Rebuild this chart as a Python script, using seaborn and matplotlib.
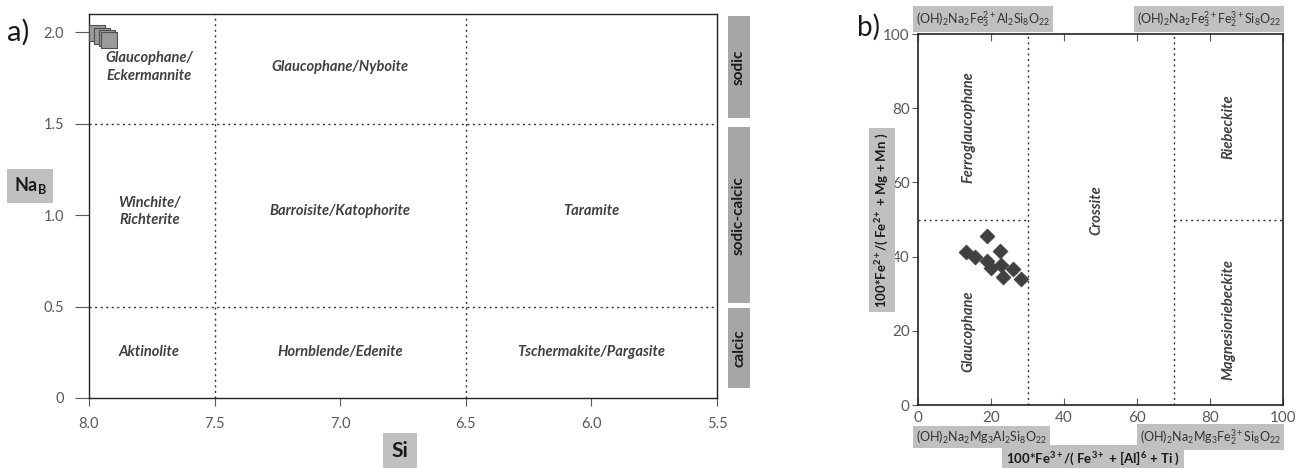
import matplotlib
matplotlib.use("Agg")
import matplotlib.pyplot as plt
import seaborn as sns
import pandas as pd
from matplotlib.patches import Rectangle
from matplotlib.transforms import blended_transform_factory

# ---------------- data ----------------
# panel a: Si vs Na_B (squares near glaucophane corner)
si_vals = [7.97, 7.95, 7.93, 7.92]
nab_vals = [1.995, 1.98, 1.97, 1.96]
a_xticks = [8.0, 7.5, 7.0, 6.5, 6.0, 5.5]
a_yticks = [0, 0.5, 1.0, 1.5, 2.0]
a_ytick_labels = ["0", "0.5", "1.0", "1.5", "2.0"]
a_fields = ["Glaucophane/\nEckermannite", "Glaucophane/Nyboite",
            "Winchite/\nRichterite", "Barroisite/Katophorite", "Taramite",
            "Aktinolite", "Hornblende/Edenite", "Tschermakite/Pargasite"]
a_field_x = [7.76, 7.0, 7.76, 7.0, 6.0, 7.76, 7.0, 6.0]
a_field_y = [1.81, 1.81, 1.02, 1.02, 1.02, 0.25, 0.25, 0.25]
groups = ["sodic", "sodic-calcic", "calcic"]
group_lo = [1.53, 0.52, 0.055]
group_hi = [2.09, 1.48, 0.49]

# panel b: Fe3+ ratio vs Fe2+ ratio (diamonds)
fe3_ratio = [18.8, 13.2, 15.6, 22.5, 19.0, 19.9, 22.7, 23.4, 26.1, 28.1]
fe2_ratio = [45.5, 41.2, 39.8, 41.6, 38.8, 36.8, 37.7, 34.4, 36.6, 34.0]
b_ticks = [0, 20, 40, 60, 80, 100]
b_fields = ["Ferroglaucophane", "Crossite", "Riebeckite", "Glaucophane",
            "Magnesioriebeckite"]
b_field_x = [13.7, 49.0, 85.0, 13.7, 85.0]
b_field_y = [75.0, 52.5, 75.0, 20.0, 23.0]

# ---------------- style ----------------
sns.set_style("ticks")
plt.rcParams['font.family'] = ['Lato', 'DejaVu Sans']
plt.rcParams['mathtext.default'] = 'regular'
plt.rcParams['mathtext.fontset'] = 'custom'
plt.rcParams['mathtext.rm'] = 'Lato'
plt.rcParams['mathtext.it'] = 'Lato:italic'
plt.rcParams['mathtext.bf'] = 'Lato:bold'

TICKC = "#595959"
LABC = "#404040"
BOXC = "#c0c0c0"

fig = plt.figure(figsize=(12.95, 4.68), dpi=100)

# ---------------- panel a ----------------
axa = fig.add_axes([0.0687, 0.1496, 0.485, 0.8205])
dfa = pd.DataFrame({"Si": si_vals, "NaB": nab_vals})
sns.scatterplot(data=dfa, x="Si", y="NaB", ax=axa, marker="s", s=120,
                color="#9a9a9a", edgecolor="#505050", linewidth=0.8, zorder=5,
                clip_on=False, legend=False)
axa.set_xlim(8.0, 5.5)
axa.set_ylim(0, 2.1)
axa.set_xticks(a_xticks)
axa.set_xticklabels([f"{v:.1f}" for v in a_xticks])
axa.set_yticks(a_yticks)
axa.set_yticklabels(a_ytick_labels)
axa.tick_params(axis="both", direction="out", length=6, width=0.8,
                colors=TICKC, labelsize=10.5, labelcolor=TICKC, pad=8)
axa.tick_params(axis="y", length=10)
for s in axa.spines.values():
    s.set_color("#222222")
    s.set_linewidth(1.0)
axa.set_xlabel("")
axa.set_ylabel("")
ls = (0, (1.5, 2.5))
for xv in [7.5, 6.5]:
    axa.axvline(xv, color="#333333", lw=1.0, ls=ls, zorder=1)
for yv in [0.5, 1.5]:
    axa.axhline(yv, color="#333333", lw=1.0, ls=ls, zorder=1)
for t, x, y in zip(a_fields, a_field_x, a_field_y):
    axa.text(x, y, t, ha="center", va="center", style="italic",
             fontweight="bold", fontsize=10.5, color=LABC, linespacing=1.3)

# side class bars
trans = blended_transform_factory(fig.transFigure, axa.transData)
for g, lo, hi in zip(groups, group_lo, group_hi):
    fig.patches.append(Rectangle((728 / 1295, lo), 22 / 1295, hi - lo,
                                 transform=trans, facecolor="#a6a6a6",
                                 edgecolor="none"))
    fig.text(739 / 1295, (lo + hi) / 2, g, transform=trans, rotation=90,
             ha="center", va="center", fontweight="bold", fontsize=11,
             color="#1a1a1a")

fig.text(30 / 1295, 1 - 186 / 468, r"Na$_{B}$", ha="center", va="center",
         fontweight="bold", fontsize=13, color="#1a1a1a",
         bbox=dict(facecolor=BOXC, edgecolor="none", pad=5))
fig.text(400 / 1295, 1 - 451 / 468, "Si", ha="center", va="center",
         fontweight="bold", fontsize=15, color="#1a1a1a",
         bbox=dict(facecolor=BOXC, edgecolor="none", pad=6))
fig.text(7 / 1295, 1 - 32 / 468, "a)", ha="left", va="center",
         fontsize=21, color="#1a1a1a")

# ---------------- panel b ----------------
axb = fig.add_axes([0.7089, 0.1346, 0.2819, 0.7927])
dfb = pd.DataFrame({"fe3": fe3_ratio, "fe2": fe2_ratio})
sns.scatterplot(data=dfb, x="fe3", y="fe2", ax=axb, marker="D", s=58,
                color="#404040", edgecolor="#404040", linewidth=0.5, zorder=5,
                legend=False)
axb.set_xlim(0, 100)
axb.set_ylim(0, 100)
axb.set_xticks(b_ticks)
axb.set_yticks(b_ticks)
axb.set_xticklabels([str(v) for v in b_ticks])
axb.set_yticklabels([str(v) for v in b_ticks])
axb.tick_params(axis="x", direction="in", length=5, width=0.8, top=True,
                colors=TICKC, labelsize=11, labelcolor=TICKC, pad=4)
axb.tick_params(axis="y", direction="out", length=4, width=0.8,
                colors=TICKC, labelsize=11, labelcolor=TICKC, pad=2)
for s in axb.spines.values():
    s.set_color("#222222")
    s.set_linewidth(1.2)
axb.set_xlabel("")
axb.set_ylabel("")
for xv in [30, 70]:
    axb.axvline(xv, color="#333333", lw=1.0, ls=ls, zorder=1)
axb.plot([0, 30], [50, 50], color="#333333", lw=1.0, ls=ls, zorder=1)
axb.plot([70, 100], [50, 50], color="#333333", lw=1.0, ls=ls, zorder=1)
for t, x, y in zip(b_fields, b_field_x, b_field_y):
    axb.text(x, y, t, ha="center", va="center", rotation=90, style="italic",
             fontweight="bold", fontsize=10.5, color=LABC)

bx = dict(facecolor=BOXC, edgecolor="none", pad=2)
fig.text(916 / 1295, 1 - 19 / 468,
         r"(OH)$_2$Na$_2$Fe$_3^{2+}$Al$_2$Si$_8$O$_{22}$",
         ha="left", va="center", fontsize=9, color="#333333", bbox=bx)
fig.text(1281 / 1295, 1 - 19 / 468,
         r"(OH)$_2$Na$_2$Fe$_3^{2+}$Fe$_2^{3+}$Si$_8$O$_{22}$",
         ha="right", va="center", fontsize=9, color="#333333", bbox=bx)
fig.text(916 / 1295, 1 - 437 / 468,
         r"(OH)$_2$Na$_2$Mg$_3$Al$_2$Si$_8$O$_{22}$",
         ha="left", va="center", fontsize=9, color="#333333", bbox=bx)
fig.text(1281 / 1295, 1 - 437 / 468,
         r"(OH)$_2$Na$_2$Mg$_3$Fe$_2^{3+}$Si$_8$O$_{22}$",
         ha="right", va="center", fontsize=9, color="#333333", bbox=bx)
fig.text(1093 / 1295, 1 - 458 / 468,
         r"100*Fe$^{3+}$/( Fe$^{3+}$ + [Al]$^{6}$ + Ti )",
         ha="center", va="center", fontsize=9.5, fontweight="bold",
         color="#1a1a1a", bbox=dict(facecolor=BOXC, edgecolor="none", pad=3))
fig.text(882 / 1295, 1 - 220 / 468,
         r"100*Fe$^{2+}$/( Fe$^{2+}$ + Mg + Mn )",
         ha="center", va="center", rotation=90, fontsize=9.5,
         fontweight="bold", color="#1a1a1a",
         bbox=dict(facecolor=BOXC, edgecolor="none", pad=3))
fig.text(857 / 1295, 1 - 27 / 468, "b)", ha="left", va="center",
         fontsize=20, color="#1a1a1a")

fig.savefig("out.png", dpi=100)
